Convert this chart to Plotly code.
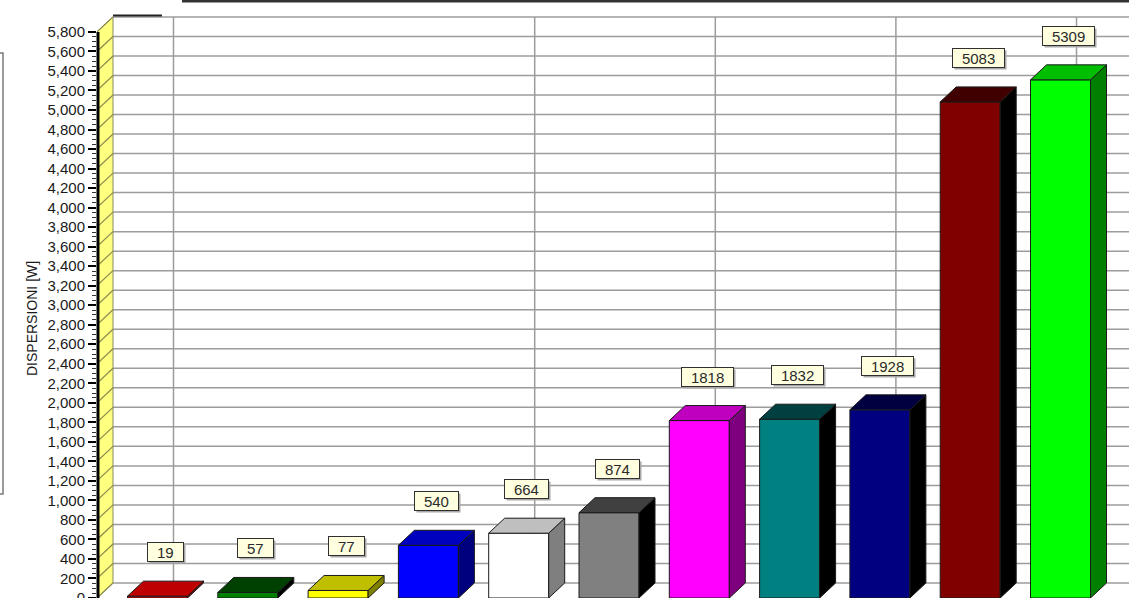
import plotly.graph_objects as go

# Heat-loss values per element, drawn left to right
values = [19, 57, 77, 540, 664, 874, 1818, 1832, 1928, 5083, 5309]
bar_colors = ["#FF0000", "#008000", "#FFFF00", "#0000FF", "#FFFFFF", "#808080",
              "#FF00FF", "#008080", "#000080", "#800000", "#00FF00"]
y_ticks = list(range(0, 5801, 200))
y_minor_ticks = [v for v in range(0, 5801, 50) if v % 200]
back_grid_cats = [0, 4, 6, 8, 10]
axis_title = "DISPERSIONI [W]"

# Canvas and pseudo-3D geometry
W, H = 1129, 598
L = 97                      # left margin = position of the front y axis
PX_PER_CAT = 90.3
PX_PER_UNIT = 0.0976
X_LEFT = (L - 157.5) / PX_PER_CAT
X_RIGHT = X_LEFT + (W - L) / PX_PER_CAT
Y_TOP = H / PX_PER_UNIT
DX = 16 / PX_PER_CAT        # depth offset, horizontal (category units)
DY = 15 / PX_PER_UNIT       # depth offset, vertical (value units)
BAR_W = 60 / PX_PER_CAT
EDGE = "#1a1a1a"


def shade(hex_color, amount):
    r, g, b = (int(hex_color[i:i + 2], 16) for i in (1, 3, 5))
    f = lambda c: max(c - amount, 0) if c else 0
    return "#%02X%02X%02X" % (f(r), f(g), f(b))


def px(x):
    return (x - L) / (W - L)


def py(y):
    return 1 - y / H


fig = go.Figure()

# Back wall: horizontal grid lines
gx, gy = [], []
for v in y_ticks:
    gx += [X_LEFT + DX, X_RIGHT + 1, None]
    gy += [v + DY, v + DY, None]
fig.add_trace(go.Scatter(x=gx, y=gy, mode="lines", hoverinfo="skip",
                         line=dict(color="#9c9c9c", width=1.5), showlegend=False))

# Back wall: vertical grid lines
vx, vy = [], []
for c in back_grid_cats:
    vx += [c + DX, c + DX, None]
    vy += [DY, y_ticks[-1] + DY, None]
fig.add_trace(go.Scatter(x=vx, y=vy, mode="lines", hoverinfo="skip",
                         line=dict(color="#9c9c9c", width=1.5), showlegend=False))

# Side wall (yellow) with its grid hatching
top = y_ticks[-1]
fig.add_trace(go.Scatter(
    x=[X_LEFT, X_LEFT + DX, X_LEFT + DX, X_LEFT, X_LEFT],
    y=[0, DY, top + DY, top, 0],
    mode="lines", fill="toself", fillcolor="#FFFF80",
    line=dict(color="#8a8a60", width=1), hoverinfo="skip", showlegend=False))
hx, hy = [], []
for v in y_ticks:
    hx += [X_LEFT, X_LEFT + DX, None]
    hy += [v, v + DY, None]
fig.add_trace(go.Scatter(x=hx, y=hy, mode="lines", hoverinfo="skip",
                         line=dict(color="#8a8a50", width=1.2), showlegend=False))

# Bars: front face, top face, right side face
for i, (v, col) in enumerate(zip(values, bar_colors)):
    x0, x1 = i - BAR_W / 2, i + BAR_W / 2
    faces = [
        ([x0, x1, x1, x0, x0], [0, 0, v, v, 0], col),
        ([x1, x1 + DX, x1 + DX, x1, x1], [0, DY, v + DY, v, 0], shade(col, 128)),
        ([x0, x1, x1 + DX, x0 + DX, x0], [v, v, v + DY, v + DY, v], shade(col, 64)),
    ]
    for fx, fy, fc in faces:
        fig.add_trace(go.Scatter(x=fx, y=fy, mode="lines", fill="toself",
                                 fillcolor=fc, line=dict(color=EDGE, width=1),
                                 hoverinfo="skip", showlegend=False))

# Value labels in boxes with a drop shadow
for i, v in enumerate(values):
    txt = str(v)
    bw = 8.3 * len(txt) + 18
    common = dict(x=i + DX / 2, y=v, xref="x", yref="y", text=txt,
                  showarrow=False, width=bw, height=18, borderpad=0,
                  font=dict(family="Arial", size=15, color="#2a2a2a"))
    fig.add_annotation(**{**common, "xshift": 2, "yshift": 42,
                          "bgcolor": "#a8a8a8",
                          "font": dict(family="Arial", size=15, color="#a8a8a8")})
    fig.add_annotation(**common, yshift=44, bgcolor="#FFFFE0",
                       bordercolor="#303030", borderwidth=1)

# Axis title
fig.add_annotation(x=px(32), y=py(319), xref="paper", yref="paper",
                   xanchor="center", yanchor="middle",
                   text=axis_title, textangle=-90, showarrow=False,
                   font=dict(family="Arial", size=14, color="#1a1a1a"))

# Front value axis line, from 0 up to the top of the side wall
fig.add_shape(type="line", xref="paper", yref="y",
              x0=px(98), x1=px(98), y0=0, y1=top,
              line=dict(color="#000000", width=3))

# Frame fragments around the chart
fig.add_shape(type="line", xref="paper", yref="paper",
              x0=px(182), x1=px(W + 2), y0=py(1), y1=py(1),
              line=dict(color="#333333", width=3))
fig.add_shape(type="line", xref="paper", yref="paper",
              x0=px(113), x1=px(162), y0=py(15.5), y1=py(15.5),
              line=dict(color="#222222", width=2))
fig.add_shape(type="rect", xref="paper", yref="paper",
              x0=px(-10), x1=px(3), y0=py(494), y1=py(53),
              line=dict(color="#7a7a7a", width=1.5))

fig.update_layout(
    width=W, height=H, autosize=False,
    margin=dict(l=L, r=0, t=0, b=0, pad=0),
    paper_bgcolor="white", plot_bgcolor="white",
    showlegend=False,
    xaxis=dict(range=[X_LEFT, X_RIGHT], visible=False, fixedrange=True),
    yaxis=dict(range=[0, Y_TOP], showgrid=False, zeroline=False,
               showline=False,
               ticks="outside", ticklen=8, tickwidth=1.5, tickcolor="#000000",
               tickvals=y_ticks, tickformat=",d", automargin=False,
               ticklabeloverflow="allow",
               tickfont=dict(family="Arial", size=15, color="#1a1a1a"),
               minor=dict(ticks="outside", ticklen=4, tickvals=y_minor_ticks,
                          tickcolor="#333333", tickwidth=1),
               fixedrange=True),
)

fig.write_html("out.html")
